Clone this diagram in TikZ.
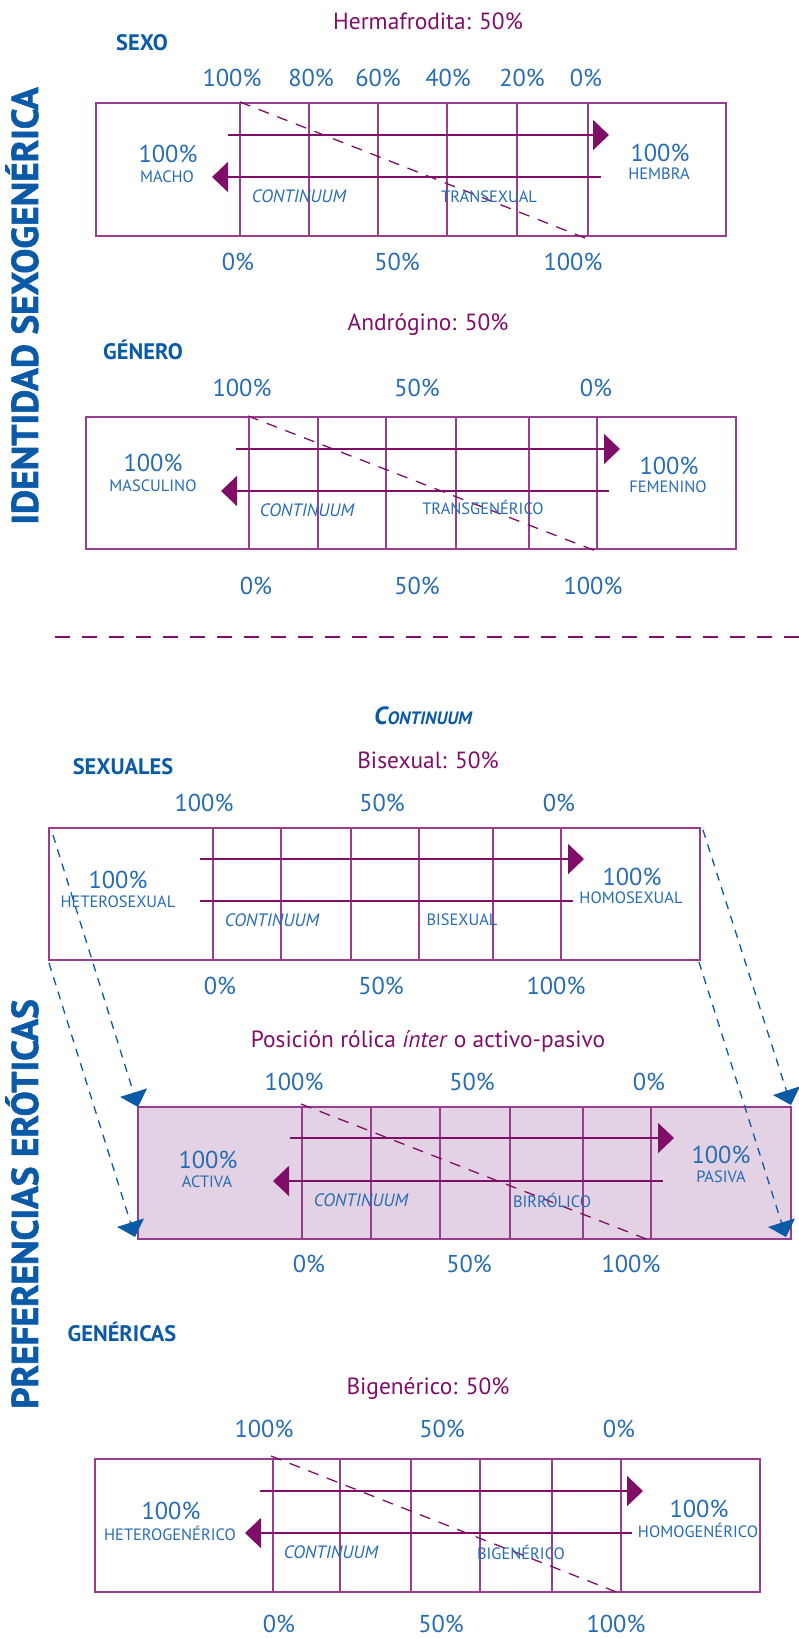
\documentclass[tikz,border=0pt]{standalone}
\usepackage{fontspec}
\setmainfont{PT Sans}
\newfontfamily\gruesa{PT Sans}[BoldFeatures={FakeBold=1.6}]
\usetikzlibrary{arrows.meta}

\definecolor{morado}{RGB}{128,14,104}
\definecolor{moradomarco}{RGB}{152,62,142}
\definecolor{azul}{RGB}{38,108,180}
\definecolor{azulfuerte}{RGB}{10,90,168}
\definecolor{lila}{RGB}{227,210,227}

\tikzset{
  pct/.style={text=azul, font=\fontsize{24.5}{27}\selectfont, inner sep=0pt},
  polo/.style={text=azul, font=\fontsize{16.5}{18}\selectfont, inner sep=0pt},
  cont/.style={text=azul, font=\fontsize{18}{20}\selectfont\itshape, inner sep=0pt},
  lema/.style={text=morado, font=\fontsize{23.5}{26}\selectfont, inner sep=0pt},
  encab/.style={text=azulfuerte, font=\fontsize{22.5}{25}\selectfont\bfseries, inner sep=0pt},
  lateral/.style={text=azulfuerte, font=\gruesa\fontsize{37.5}{40}\selectfont\bfseries, rotate=90, inner sep=0pt},
  marco/.style={draw=moradomarco, line width=1.7bp},
  rejilla/.style={draw=moradomarco, line width=1.3bp},
  flecha/.style={draw=morado, line width=2bp, -{Triangle[length=16bp,width=30bp]}},
  diag/.style={draw=morado, line width=1.3bp, dash pattern=on 11bp off 9bp},
  salto/.style={draw=azulfuerte, line width=1.3bp, dash pattern=on 8bp off 7bp, -{Triangle[length=15bp,width=28bp]}}
}

\begin{document}
\begin{tikzpicture}[x=1bp,y=-1bp]
  \useasboundingbox (0,0) rectangle (799,1639);

  % titulos laterales
  \node[lateral] (identidad) at (22,306) {IDENTIDAD SEXOGENÉRICA};
  \node[lateral] (preferencias) at (22,1204) {PREFERENCIAS ERÓTICAS};

  % SEXO
  \node[lema] (herma) at (428,21) {Hermafrodita: 50\%};
  \node[encab] (sexo) at (142,43) {SEXO};
  \node[pct] (sx100) at (232,78) {100\%};
  \node[pct] (sx80) at (311,78) {80\%};
  \node[pct] (sx60) at (378,78) {60\%};
  \node[pct] (sx40) at (448,78) {40\%};
  \node[pct] (sx20) at (522,78) {20\%};
  \node[pct] (sx0) at (586,78) {0\%};
  \draw[marco] (96,103) rectangle (726,236);
  \draw[rejilla] (240,103) -- (240,236) (309,103) -- (309,236) (378,103) -- (378,236)
    (447,103) -- (447,236) (517,103) -- (517,236) (588,103) -- (588,236);
  \draw[flecha] (228,135) -- (609,135);
  \draw[flecha] (601,177) -- (212,177);
  \draw[diag] (240,102) -- (590,240);
  \node[pct] (macho100) at (168,154) {100\%};
  \node[polo] (macho) at (167,177) {MACHO};
  \node[pct] (hembra100) at (660,153) {100\%};
  \node[polo] (hembra) at (659,174) {HEMBRA};
  \node[cont] (sxcont) at (299,196) {CONTINUUM};
  \node[polo] (transexual) at (489,197) {TRANSEXUAL};
  \node[pct] (sxb0) at (238,262) {0\%};
  \node[pct] (sxb50) at (397,262) {50\%};
  \node[pct] (sxb100) at (573,262) {100\%};

  % GENERO
  \node[lema] (androgino) at (428,325) {Andrógino: 50\%};
  \node[encab] (genero) at (143,350) {GÉNERO};
  \node[pct] (gn100) at (242,388) {100\%};
  \node[pct] (gn50) at (417,388) {50\%};
  \node[pct] (gn0) at (596,388) {0\%};
  \draw[marco] (86,417) rectangle (736,549);
  \draw[rejilla] (249,417) -- (249,549) (318,417) -- (318,549) (386,417) -- (386,549)
    (456,417) -- (456,549) (529,417) -- (529,549) (597,417) -- (597,549);
  \draw[flecha] (236,449) -- (620,449);
  \draw[flecha] (609,491) -- (221,491);
  \draw[diag] (248,416) -- (601,553);
  \node[pct] (masc100) at (153,463) {100\%};
  \node[polo] (masculino) at (153,486) {MASCULINO};
  \node[pct] (fem100) at (669,466) {100\%};
  \node[polo] (femenino) at (668,487) {FEMENINO};
  \node[cont] (gncont) at (307,510) {CONTINUUM};
  \node[polo] (transgenerico) at (483,507) {TRANSGENÉRICO};
  \node[pct] (gnb0) at (256,586) {0\%};
  \node[pct] (gnb50) at (417,586) {50\%};
  \node[pct] (gnb100) at (593,586) {100\%};

  \draw[draw=morado, line width=1.3bp, dash pattern=on 15bp off 12bp] (55,637) -- (799,637);

  % SEXUALES
  \node[text=azulfuerte, font=\gruesa\bfseries\itshape, inner sep=0pt] (continuum) at (423,716)
    {{\fontsize{25}{27}\selectfont C}{\fontsize{18}{20}\selectfont ONTINUUM}};
  \node[lema] (bisexual) at (428,760) {Bisexual: 50\%};
  \node[encab] (sexuales) at (123,767) {SEXUALES};
  \node[pct] (se100) at (204,803) {100\%};
  \node[pct] (se50) at (382,803) {50\%};
  \node[pct] (se0) at (559,803) {0\%};
  \draw[marco] (49,828) rectangle (700,960);
  \draw[rejilla] (213,828) -- (213,960) (281,828) -- (281,960) (351,828) -- (351,960)
    (419,828) -- (419,960) (493,828) -- (493,960) (561,828) -- (561,960);
  \draw[flecha] (200,859) -- (584,859);
  \draw[draw=morado, line width=2bp] (200,901) -- (573,901);
  \node[pct] (hetero100) at (118,880) {100\%};
  \node[polo] (heterosexual) at (118,902) {HETEROSEXUAL};
  \node[pct] (homo100) at (632,877) {100\%};
  \node[polo] (homosexual) at (631,898) {HOMOSEXUAL};
  \node[cont] (secont) at (272,920) {CONTINUUM};
  \node[polo] (bisex) at (462,920) {BISEXUAL};
  \node[pct] (seb0) at (220,986) {0\%};
  \node[pct] (seb50) at (381,986) {50\%};
  \node[pct] (seb100) at (556,986) {100\%};

  % POSICION ROLICA
  \node[lema] (rolica) at (428,1041) {Posición rólica \textit{ínter} o activo-pasivo};
  \node[pct] (ro100) at (294,1082) {100\%};
  \node[pct] (ro50) at (472,1082) {50\%};
  \node[pct] (ro0) at (649,1082) {0\%};
  \draw[marco, fill=lila] (138,1107) rectangle (791,1239);
  \draw[rejilla] (302,1107) -- (302,1239) (371,1107) -- (371,1239) (440,1107) -- (440,1239)
    (510,1107) -- (510,1239) (583,1107) -- (583,1239) (651,1107) -- (651,1239);
  \draw[flecha] (290,1138) -- (674,1138);
  \draw[flecha] (663,1181) -- (273,1181);
  \draw[diag] (301,1104) -- (654,1242);
  \node[pct] (activa100) at (208,1160) {100\%};
  \node[polo] (activa) at (207,1182) {ACTIVA};
  \node[pct] (pasiva100) at (721,1155) {100\%};
  \node[polo] (pasiva) at (721,1177) {PASIVA};
  \node[cont] (rocont) at (361,1200) {CONTINUUM};
  \node[polo] (birrolico) at (552,1200) {BIRRÓLICO};
  \node[pct] (rob0) at (309,1264) {0\%};
  \node[pct] (rob50) at (469,1264) {50\%};
  \node[pct] (rob100) at (631,1264) {100\%};

  % saltos entre cajas
  \coordinate (seA) at (53,835);
  \coordinate (seB) at (49,963);
  \coordinate (seC) at (703,830);
  \coordinate (seD) at (699,962);
  \coordinate (roA) at (138,1107);
  \coordinate (roB) at (135,1237);
  \coordinate (roC) at (791,1105);
  \coordinate (roD) at (786,1237);
  \draw[salto] (seA) -- (roA);
  \draw[salto] (seB) -- (roB);
  \draw[salto] (seC) -- (roC);
  \draw[salto] (seD) -- (roD);

  % GENERICAS
  \node[encab] (genericas) at (122,1332) {GENÉRICAS};
  \node[lema] (bigenerico) at (428,1389) {Bigenérico: 50\%};
  \node[pct] (ge100) at (264,1429) {100\%};
  \node[pct] (ge50) at (442,1429) {50\%};
  \node[pct] (ge0) at (619,1429) {0\%};
  \draw[marco] (95,1459) rectangle (760,1592);
  \draw[rejilla] (273,1459) -- (273,1592) (340,1459) -- (340,1592) (411,1459) -- (411,1592)
    (480,1459) -- (480,1592) (552,1459) -- (552,1592) (621,1459) -- (621,1592);
  \draw[flecha] (260,1491) -- (643,1491);
  \draw[flecha] (632,1533) -- (245,1533);
  \draw[diag] (271,1456) -- (624,1595);
  \node[pct] (hg100) at (171,1511) {100\%};
  \node[polo] (heterogenerico) at (170,1533) {HETEROGENÉRICO};
  \node[pct] (hm100) at (699,1509) {100\%};
  \node[polo] (homogenerico) at (698,1530) {HOMOGENÉRICO};
  \node[cont] (gecont) at (331,1552) {CONTINUUM};
  \node[polo] (bigen) at (521,1552) {BIGENÉRICO};
  \node[pct] (geb0) at (279,1624) {0\%};
  \node[pct] (geb50) at (441,1624) {50\%};
  \node[pct] (geb100) at (616,1624) {100\%};
\end{tikzpicture}
\end{document}
